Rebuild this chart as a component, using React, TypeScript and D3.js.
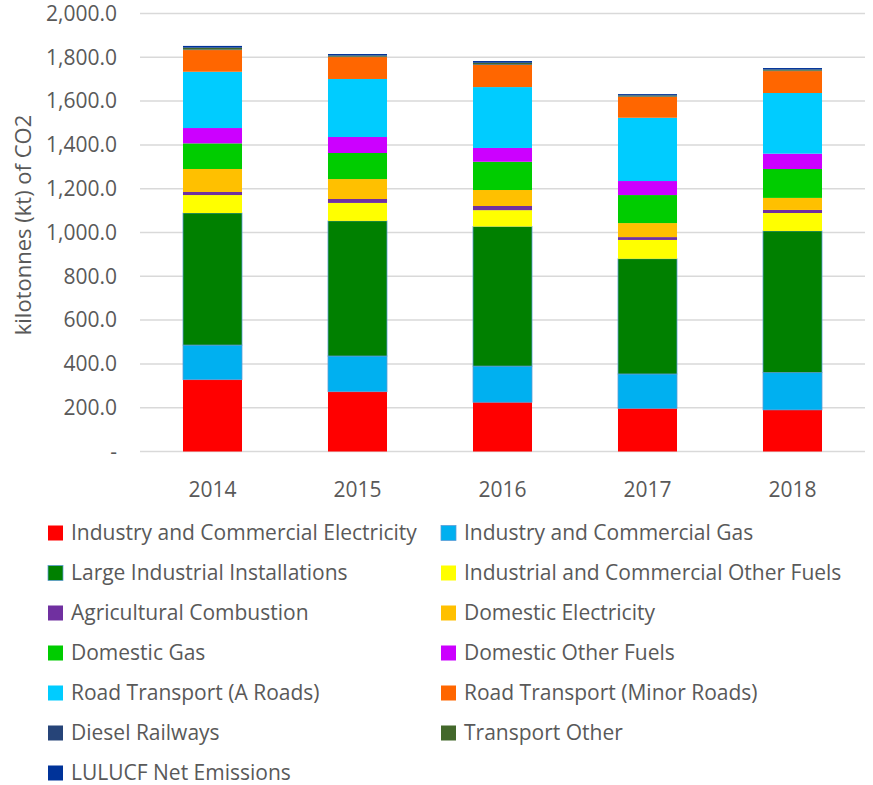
import React from 'react';
import * as d3 from 'd3';

const W = 873;
const H = 785;
const PLOT = { left: 140, right: 865, top: 13.5, bottom: 451.5 };

const years = ['2014', '2015', '2016', '2017', '2018'];

const seriesNames = [
  'Industry and Commercial Electricity',
  'Industry and Commercial Gas',
  'Large Industrial Installations',
  'Industrial and Commercial Other Fuels',
  'Agricultural Combustion',
  'Domestic Electricity',
  'Domestic Gas',
  'Domestic Other Fuels',
  'Road Transport (A Roads)',
  'Road Transport (Minor Roads)',
  'Diesel Railways',
  'Transport Other',
  'LULUCF Net Emissions',
];

const seriesColors = [
  '#FF0000', '#00B0F0', '#008000', '#FFFF00', '#7030A0', '#FFC000', '#00CC00',
  '#CC00FF', '#00CCFF', '#FF6600', '#264478', '#43682B', '#003399',
];

// kt CO2, one array per series, in year order
const indCommElec = [328, 273, 225, 197, 190];
const indCommGas = [158, 163, 165, 157, 170];
const largeIndustrial = [603, 617, 637, 526, 647];
const indCommOther = [82, 82, 75, 86, 82];
const agricultural = [14, 18, 19, 13, 14];
const domElec = [105, 91, 73, 64, 55];
const domGas = [117, 119, 129, 128, 132];
const domOther = [70, 73, 63, 64, 70];
const roadA = [257, 265, 278, 289, 277];
const roadMinor = [99, 100, 101, 95, 100];
const dieselRail = [2, 2, 3, 2, 2];
const transportOther = [9, 5, 7, 5, 5];
const lulucf = [8, 7, 8, 6, 7];

const seriesValues = [
  indCommElec, indCommGas, largeIndustrial, indCommOther, agricultural, domElec,
  domGas, domOther, roadA, roadMinor, dieselRail, transportOther, lulucf,
];

const yTicks = [0, 200, 400, 600, 800, 1000, 1200, 1400, 1600, 1800, 2000];

const FONT = '"Open Sans", "Noto Sans", sans-serif';
const TEXT = '#595959';
const FS = 21;

export default function App() {
  const rows = years.map((yr, i) => {
    const r: Record<string, any> = { year: yr };
    seriesNames.forEach((s, k) => (r[s] = seriesValues[k][i]));
    return r;
  });
  const stacked = d3.stack<any>().keys(seriesNames)(rows);

  const x = d3
    .scaleBand()
    .domain(years)
    .range([PLOT.left, PLOT.right])
    .paddingInner(0.593)
    .paddingOuter(0.593 / 2);
  const y = d3.scaleLinear().domain([0, 2000]).range([PLOT.bottom, PLOT.top]);
  const fmt = d3.format(',.1f');

  const outlined = new Set([1, 2]);

  return (
    <svg
      width={W}
      height={H}
      style={{ position: 'absolute', left: 0, top: 0, background: '#fff' }}
      fontFamily={FONT}
    >
      {/* gridlines */}
      {yTicks.map((t) => (
        <line
          key={t}
          x1={PLOT.left}
          x2={PLOT.right}
          y1={y(t)}
          y2={y(t)}
          stroke="#D9D9D9"
          strokeWidth={1.5}
        />
      ))}
      {/* y tick labels */}
      {yTicks.map((t) => (
        <text
          key={'l' + t}
          x={117}
          y={y(t)}
          dy="0.35em"
          textAnchor="end"
          fontSize={FS}
          fill={TEXT}
        >
          {t === 0 ? '-' : fmt(t)}
        </text>
      ))}
      <text
        transform={`translate(31,225) rotate(-90)`}
        textAnchor="middle"
        fontSize={22}
        fill={TEXT}
      >
        kilotonnes (kt) of CO2
      </text>

      {/* bars */}
      {stacked.map((layer, k) => (
        <g key={layer.key}>
          {layer.map((d, i) => (
            <rect
              key={i}
              x={x(years[i])}
              y={y(d[1])}
              width={x.bandwidth()}
              height={Math.max(0, y(d[0]) - y(d[1]))}
              fill={seriesColors[k]}
              stroke={outlined.has(k) ? '#5B9BD5' : 'none'}
              strokeWidth={outlined.has(k) ? 0.75 : 0}
            />
          ))}
        </g>
      ))}

      {/* x labels */}
      {years.map((yr) => (
        <text
          key={yr}
          x={(x(yr) as number) + x.bandwidth() / 2}
          y={497}
          textAnchor="middle"
          fontSize={FS}
          fill={TEXT}
        >
          {yr}
        </text>
      ))}

      {/* legend */}
      {seriesNames.map((s, k) => {
        const col = k % 2;
        const row = Math.floor(k / 2);
        const lx = col === 0 ? 48 : 441;
        const cy = 533 + row * 40;
        return (
          <g key={s}>
            <rect
              x={lx}
              y={cy - 7.5}
              width={15}
              height={15}
              fill={seriesColors[k]}
              stroke={outlined.has(k) ? '#5B9BD5' : 'none'}
              strokeWidth={outlined.has(k) ? 0.75 : 0}
            />
            <text x={lx + 23} y={cy} dy="0.35em" fontSize={FS} fill={TEXT}>
              {s}
            </text>
          </g>
        );
      })}
    </svg>
  );
}
